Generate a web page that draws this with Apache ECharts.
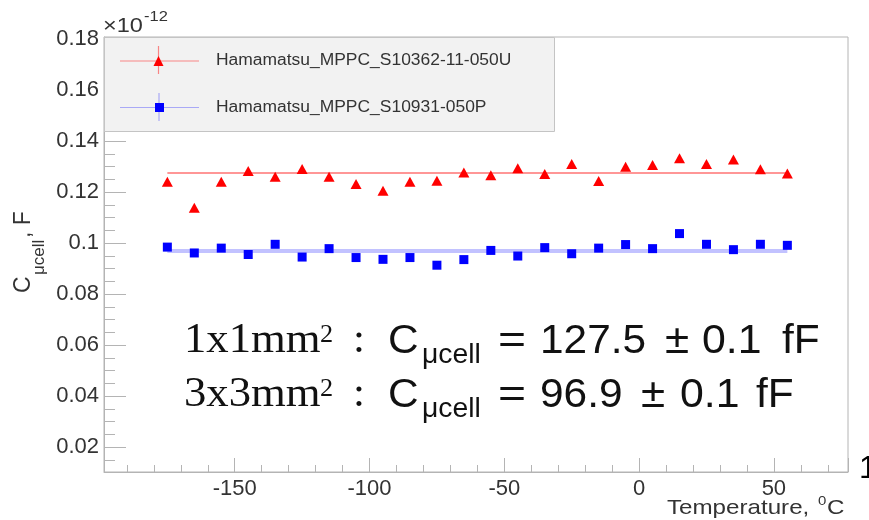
<!DOCTYPE html>
<html>
<head>
<meta charset="utf-8">
<title>Cucell vs temperature</title>
<script src="https://cdn.jsdelivr.net/npm/echarts@6/dist/echarts.min.js"></script>
<style>
html,body{margin:0;padding:0;background:#fff;}
#main{width:869px;height:520px;}
</style>
</head>
<body>
<div id="main"></div>
<script>
// 数据 (电容单位 1e-12 F)
const temps = [-175,-165,-155,-145,-135,-125,-115,-105,-95,-85,-75,-65,-55,-45,-35,-25,-15,-5,5,15,25,35,45,55];
const cap1x1 = [0.1240,0.1138,0.1240,0.1282,0.1260,0.1290,0.1260,0.1231,0.1205,0.1240,0.1244,0.1277,
	0.1266,0.1293,0.1271,0.1310,0.1243,0.1299,0.1306,0.1332,0.1310,0.1328,0.1289,0.1273];
const cap3x3 = [0.0984,0.0961,0.0980,0.0955,0.0995,0.0945,0.0978,0.0943,0.0936,0.0943,0.0913,0.0935,
	0.0971,0.0949,0.0982,0.0958,0.0980,0.0994,0.0978,0.1037,0.0995,0.0974,0.0995,0.0991];
const fitRange = [-175, 55];
const fit1x1 = [0.1275, 0.1275];
const fit3x3 = [0.0969, 0.0969];
const seriesNames = ['Hamamatsu_MPPC_S10362-11-050U', 'Hamamatsu_MPPC_S10931-050P'];
const xRange = [-198.5, 77.5];
const yRange = [0.0102, 0.1808];

const SANS = '"Liberation Sans", Arial, sans-serif';
const SERIF = '"Liberation Serif", "Times New Roman", serif';

// 文字 helper, y 是基线
function txt(str, x, base, size, family, opts){
	opts = opts || {};
	return {
		type: 'text', x: x, y: base - 0.345 * size,
		scaleX: opts.sx || 1,
		z: 10,
		style: {
			text: str, fill: opts.color || '#111',
			font: size + 'px ' + family,
			align: 'left', verticalAlign: 'middle',
			textAlign: 'left', textVerticalAlign: 'middle'
		}
	};
}

const chart = echarts.init(document.getElementById('main'));

const pts1 = temps.map((t, i) => [t, cap1x1[i]]);
const pts2 = temps.map((t, i) => [t, cap3x3[i]]);
const line1 = fitRange.map((t, i) => [t, fit1x1[i]]);
const line2 = fitRange.map((t, i) => [t, fit3x3[i]]);

const axisGray = '#b4b4b4';
const lbl = {color: '#333', fontFamily: SANS, fontSize: 22};

// 注释文字
const notes = [];
[['1x1mm', '127.5', 356], ['3x3mm', '96.9', 410]].forEach(function(r){
	const b = r[2];
	notes.push(txt(r[0], 184, b, 43, SERIF, {sx: 1.04}));
	notes.push(txt('2', 320, b - 12, 25, SERIF, {sx: 1.05}));
	notes.push(txt(':', 353, b, 43, SERIF));
	notes.push(txt('C', 388, b, 40, SANS, {sx: 1.06}));
	notes.push(txt('\u03bccell', 422, b + 9, 27, SANS, {sx: 1.05}));
	notes.push(txt('=', 498, b, 40, SANS, {sx: 1.2}));
	notes.push(txt(r[1], 540, b, 40, SANS, {sx: 1.06}));
});
notes.push(txt('\u00b1', 665, 356, 40, SANS, {sx: 1.1}));
notes.push(txt('0.1', 702, 356, 40, SANS, {sx: 1.07}));
notes.push(txt('fF', 782, 356, 40, SANS, {sx: 1.06}));
notes.push(txt('\u00b1', 641, 410, 40, SANS, {sx: 1.1}));
notes.push(txt('0.1', 680, 410, 40, SANS, {sx: 1.07}));
notes.push(txt('fF', 756, 410, 40, SANS, {sx: 1.06}));

// 图例 (手绘)
const legend = [
	{type: 'rect', z: 5, shape: {x: 104.5, y: 37.5, width: 450, height: 94},
		style: {fill: '#f2f2f2', stroke: '#c4c4c4', lineWidth: 1}},
	{type: 'line', z: 6, shape: {x1: 120, y1: 61, x2: 199, y2: 61}, style: {stroke: 'rgba(255,0,0,0.45)', lineWidth: 1.2}},
	{type: 'line', z: 6, shape: {x1: 158.5, y1: 46, x2: 158.5, y2: 74}, style: {stroke: 'rgba(255,0,0,0.45)', lineWidth: 1.2}},
	{type: 'polygon', z: 7, shape: {points: [[158.5, 56], [153.5, 66], [163.5, 66]]}, style: {fill: '#ff0000'}},
	{type: 'line', z: 6, shape: {x1: 120, y1: 107.5, x2: 199, y2: 107.5}, style: {stroke: 'rgba(0,0,255,0.3)', lineWidth: 1.2}},
	{type: 'line', z: 6, shape: {x1: 159, y1: 93, x2: 159, y2: 121}, style: {stroke: 'rgba(0,0,255,0.3)', lineWidth: 1.2}},
	{type: 'rect', z: 7, shape: {x: 155, y: 103, width: 9, height: 9}, style: {fill: '#0000ff'}},
	txt(seriesNames[0], 216, 66, 16, SANS, {sx: 1.09, color: '#333'}),
	txt(seriesNames[1], 216, 113, 16, SANS, {sx: 1.09, color: '#333'})
];

// 轴标题
const titles = [
	txt('\u00d710', 103, 33, 21, SANS, {sx: 1.12, color: '#333'}),
	txt('-12', 144, 22, 15, SANS, {sx: 1.1, color: '#333'}),
	txt('Temperature,', 667, 515, 21, SANS, {sx: 1.15, color: '#333'}),
	txt('0', 818, 506, 13, SANS, {sx: 1.15, color: '#333'}),
	txt('C', 827, 515, 21, SANS, {sx: 1.15, color: '#333'}),
	{type: 'group', x: 0, y: 293, rotation: Math.PI / 2, children: [
		txt('C', 0, 32, 23, SANS, {color: '#333'}),
		txt('\u03bccell', 18, 45, 17, SANS, {color: '#333'}),
		txt(', F', 55, 32, 23, SANS, {color: '#333'})
	]},
	txt('1', 859, 480, 32, SANS, {color: '#000'})
];

const option = {
	animation: false,
	backgroundColor: '#fff',
	grid: {left: 104, top: 37, width: 744, height: 435, show: true,
		borderColor: axisGray, borderWidth: 1, containLabel: false},
	xAxis: {
		type: 'value', min: xRange[0], max: xRange[1], splitNumber: 5,
		axisLine: {onZero: false, lineStyle: {color: axisGray}},
		axisTick: {inside: true, length: 14, lineStyle: {color: axisGray}},
		minorTick: {show: true, splitNumber: 5, length: 7, lineStyle: {color: axisGray}},
		splitLine: {show: false},
		axisLabel: Object.assign({margin: 6, showMinLabel: false, showMaxLabel: false}, lbl)
	},
	yAxis: {
		type: 'value', min: yRange[0], max: yRange[1], splitNumber: 9,
		axisLine: {onZero: false, lineStyle: {color: axisGray}},
		axisTick: {inside: true, length: 22, lineStyle: {color: axisGray}},
		minorTick: {show: true, splitNumber: 4, length: 11, lineStyle: {color: axisGray}},
		splitLine: {show: false},
		axisLabel: Object.assign({margin: 5, showMinLabel: false, showMaxLabel: false}, lbl)
	},
	series: [
		{name: 'fit1', type: 'line', data: line1, showSymbol: false, z: 1,
			lineStyle: {color: 'rgba(255,0,0,0.55)', width: 1.5}},
		{name: 'fit2', type: 'line', data: line2, showSymbol: false, z: 1,
			lineStyle: {color: 'rgba(80,80,255,0.35)', width: 4}},
		{name: seriesNames[0], type: 'scatter', data: pts1, symbol: 'triangle', symbolSize: [11, 10], z: 3,
			itemStyle: {color: '#ff0000', opacity: 1}},
		{name: seriesNames[1], type: 'scatter', data: pts2, symbol: 'rect', symbolSize: 9, z: 3,
			itemStyle: {color: '#0000ff', opacity: 1}}
	],
	graphic: legend.concat(titles, notes)
};
chart.setOption(option);
</script>
</body>
</html>
